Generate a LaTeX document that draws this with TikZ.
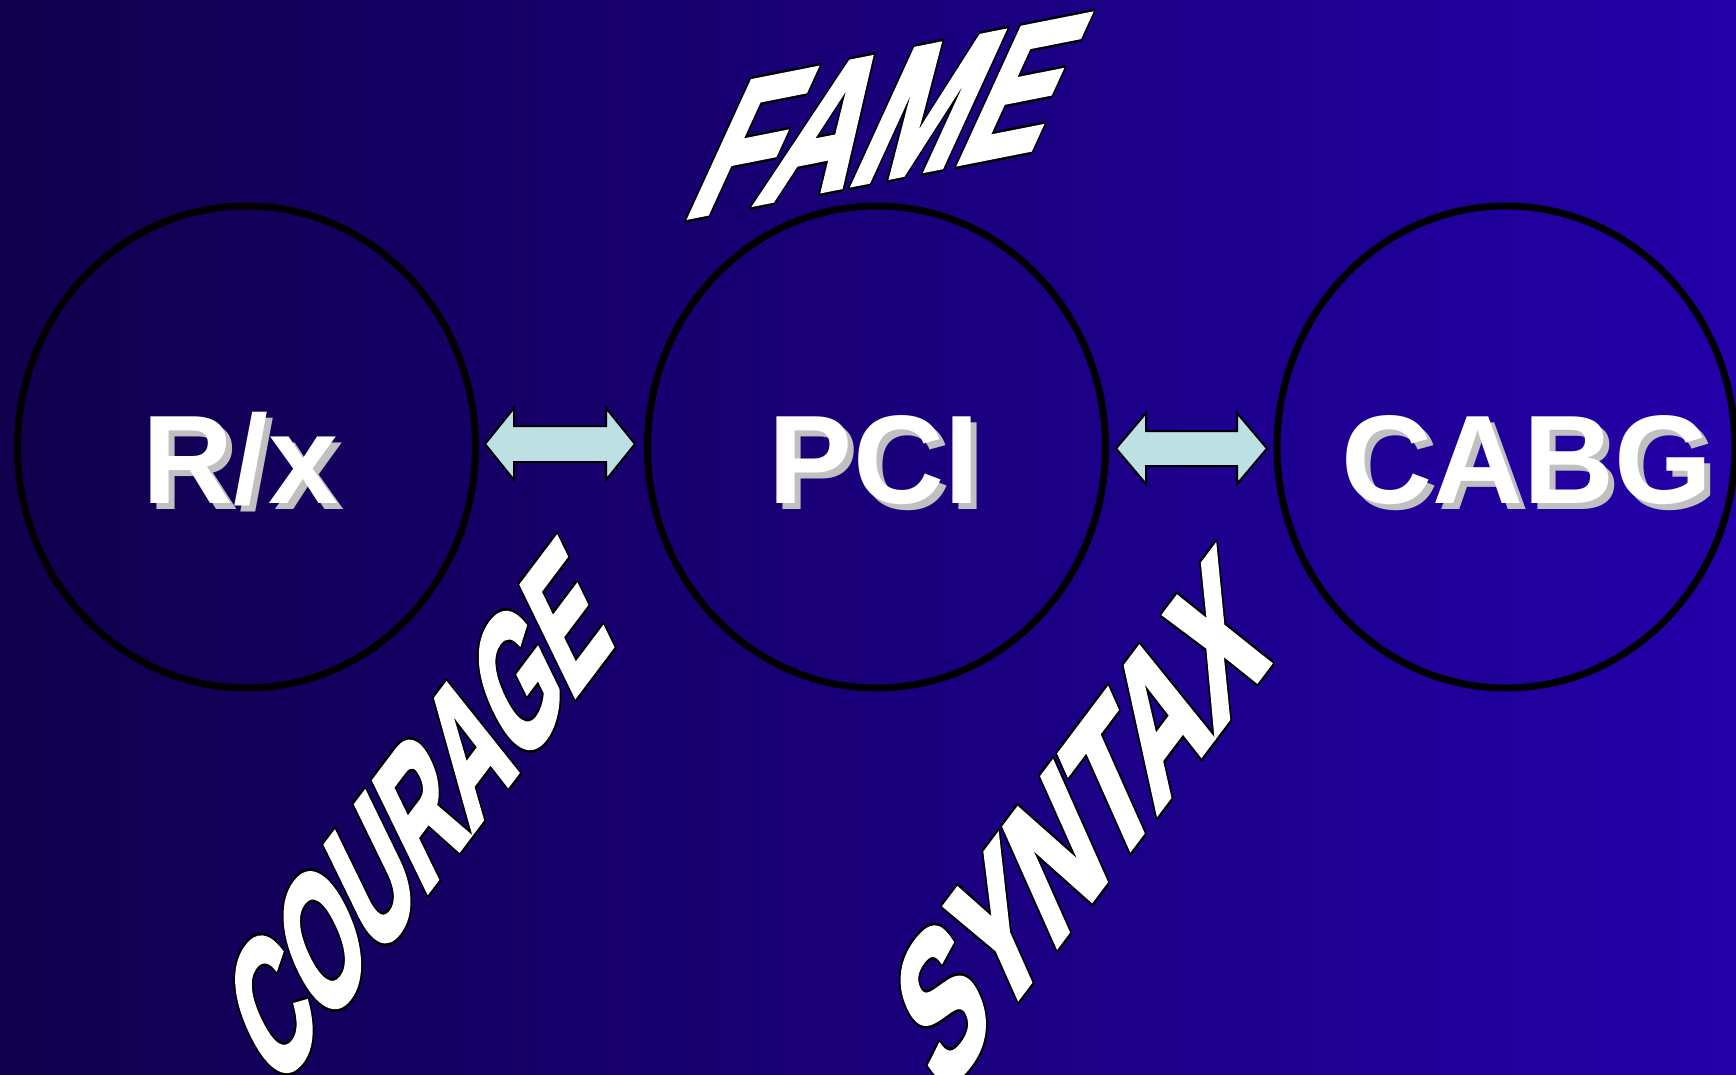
\documentclass[tikz,border=0pt]{standalone}
\usepackage{fontspec}
\setmainfont{Liberation Sans}
\newfontfamily\wafont[FakeBold=3]{Liberation Sans Bold}
\usepackage{contour}
\contourlength{2.5pt}
\contournumber{24}
\usetikzlibrary{shapes.geometric}
\definecolor{bgL}{HTML}{10004C}
\definecolor{bgR}{HTML}{2300A8}
\definecolor{arrowfill}{HTML}{BCE0E3}
\definecolor{shadowgray}{HTML}{C0C0C0}
\tikzset{
  ring/.style={ellipse, draw=black, line width=7pt, inner sep=0pt,
    minimum width=458pt, minimum height=482pt},
  bigtxt/.style={font=\fontsize{126}{126}\selectfont\bfseries, inner sep=0pt, anchor=base},
  blockarrow/.style={fill=arrowfill, draw=black, line width=2pt, line join=miter},
  wordart/.style={transform shape, inner sep=0pt, text=white}
}
\begin{document}
\begin{tikzpicture}[x=1pt,y=1pt]
\useasboundingbox (0,0) rectangle (1736,-1075);
\shade[left color=bgL, right color=bgR] (0,0) rectangle (1736,-1075);

% circles
\node[ring] (c1) at (246.5,-447) {};
\node[ring] (c2) at (876.5,-447) {};
\node[ring] (c3) at (1506,-447) {};

% labels with shadow
\node[bigtxt, text=shadowgray] (l1s) at (247,-509) {R/x};
\node[bigtxt, text=white] (l1) at (241,-503) {R/x};
\node[bigtxt, text=shadowgray] (l2s) at (880,-509) {PCI};
\node[bigtxt, text=white] (l2) at (874,-503) {PCI};
\node[bigtxt, text=shadowgray] (l3s) at (1533,-509) {CABG};
\node[bigtxt, text=white] (l3) at (1527,-503) {CABG};

% block arrows
\draw[blockarrow] (485,-444) -- (514,-408) -- (514,-426) -- (606,-426) -- (606,-408)
  -- (635,-444) -- (606,-480) -- (606,-462) -- (514,-462) -- (514,-480) -- cycle;
\draw[blockarrow] (1116,-448.5) -- (1146,-413) -- (1146,-431) -- (1237,-431) -- (1237,-413)
  -- (1267,-448.5) -- (1237,-484) -- (1237,-466) -- (1146,-466) -- (1146,-484) -- cycle;

% word art
\begin{scope}[shift={(889,-117)}, cm={0.652,0.129,0.458,1,(0,0)}]
\node[wordart, font=\wafont\fontsize{196}{196}\selectfont] (fame) at (0,0) {\contour{black}{FAME}};
\end{scope}
\begin{scope}[shift={(419,-814)}, cm={0.373,0.495,-0.438,0.899,(0,0)}]
\node[wordart, font=\wafont\fontsize{178}{178}\selectfont] (courage) at (0,0) {\contour{black}{COURAGE}};
\end{scope}
\begin{scope}[shift={(1080,-823)}, cm={0.439,0.583,-0.407,0.914,(0,0)}]
\node[wordart, font=\wafont\fontsize{188}{188}\selectfont] (syntax) at (0,0) {\contour{black}{SYNTAX}};
\end{scope}
\end{tikzpicture}
\end{document}
